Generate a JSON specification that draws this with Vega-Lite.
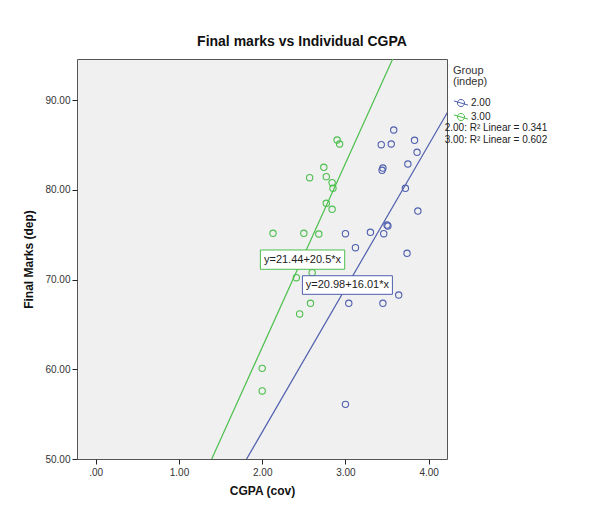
{
  "$schema": "https://vega.github.io/schema/vega-lite/v6.json",
  "width": 370,
  "height": 400,
  "autosize": {"type": "none"},
  "padding": {"left": 77, "top": 59, "right": 145, "bottom": 53},
  "background": "white",
  "title": {
    "text": "Final marks vs Individual CGPA",
    "anchor": "middle",
    "frame": "group",
    "dx": 40,
    "font": "Liberation Sans",
    "fontSize": 14,
    "fontWeight": "bold",
    "color": "#111111",
    "offset": 10
  },
  "config": {
    "font": "Liberation Sans",
    "view": {"fill": "#f0f0f0", "stroke": "#555555", "strokeWidth": 1},
    "axis": {
      "domain": false,
      "grid": false,
      "ticks": true,
      "tickSize": 5,
      "tickColor": "#222222",
      "labelFont": "Liberation Sans",
      "labelFontSize": 10,
      "labelColor": "#333333",
      "titleFont": "Liberation Sans",
      "titleFontSize": 12,
      "titleFontWeight": "bold",
      "titleColor": "#111111"
    },
    "legend": {
      "labelFont": "Liberation Sans",
      "titleFont": "Liberation Sans"
    }
  },
  "datasets": {
    "pts": [
      {"cgpa": 3.58, "marks": 86.66, "group": "2.00"},
      {"cgpa": 3.43, "marks": 85.02, "group": "2.00"},
      {"cgpa": 3.55, "marks": 85.10, "group": "2.00"},
      {"cgpa": 3.83, "marks": 85.51, "group": "2.00"},
      {"cgpa": 3.86, "marks": 84.17, "group": "2.00"},
      {"cgpa": 3.45, "marks": 82.42, "group": "2.00"},
      {"cgpa": 3.44, "marks": 82.17, "group": "2.00"},
      {"cgpa": 3.75, "marks": 82.87, "group": "2.00"},
      {"cgpa": 3.72, "marks": 80.16, "group": "2.00"},
      {"cgpa": 3.87, "marks": 77.63, "group": "2.00"},
      {"cgpa": 3.00, "marks": 75.10, "group": "2.00"},
      {"cgpa": 3.30, "marks": 75.26, "group": "2.00"},
      {"cgpa": 3.50, "marks": 76.07, "group": "2.00"},
      {"cgpa": 3.51, "marks": 75.96, "group": "2.00"},
      {"cgpa": 3.46, "marks": 75.10, "group": "2.00"},
      {"cgpa": 3.12, "marks": 73.54, "group": "2.00"},
      {"cgpa": 3.74, "marks": 72.92, "group": "2.00"},
      {"cgpa": 3.64, "marks": 68.27, "group": "2.00"},
      {"cgpa": 3.04, "marks": 67.35, "group": "2.00"},
      {"cgpa": 3.45, "marks": 67.35, "group": "2.00"},
      {"cgpa": 3.00, "marks": 56.09, "group": "2.00"},
      {"cgpa": 2.90, "marks": 85.54, "group": "3.00"},
      {"cgpa": 2.93, "marks": 85.10, "group": "3.00"},
      {"cgpa": 2.74, "marks": 82.50, "group": "3.00"},
      {"cgpa": 2.57, "marks": 81.34, "group": "3.00"},
      {"cgpa": 2.77, "marks": 81.46, "group": "3.00"},
      {"cgpa": 2.84, "marks": 80.79, "group": "3.00"},
      {"cgpa": 2.85, "marks": 80.16, "group": "3.00"},
      {"cgpa": 2.77, "marks": 78.49, "group": "3.00"},
      {"cgpa": 2.84, "marks": 77.82, "group": "3.00"},
      {"cgpa": 2.13, "marks": 75.15, "group": "3.00"},
      {"cgpa": 2.50, "marks": 75.15, "group": "3.00"},
      {"cgpa": 2.68, "marks": 75.07, "group": "3.00"},
      {"cgpa": 2.41, "marks": 70.20, "group": "3.00"},
      {"cgpa": 2.60, "marks": 70.76, "group": "3.00"},
      {"cgpa": 2.58, "marks": 67.35, "group": "3.00"},
      {"cgpa": 2.45, "marks": 66.16, "group": "3.00"},
      {"cgpa": 2.00, "marks": 60.10, "group": "3.00"},
      {"cgpa": 2.00, "marks": 57.58, "group": "3.00"}
    ],
    "fits": [
      {"cgpa": 1.70, "marks": 48.197, "group": "2.00"},
      {"cgpa": 4.30, "marks": 89.823, "group": "2.00"},
      {"cgpa": 1.30, "marks": 48.09, "group": "3.00"},
      {"cgpa": 3.70, "marks": 97.29, "group": "3.00"}
    ],
    "eqs": [
      {"group": "3.00", "label": "y=21.44+20.5*x", "cx": 2.484, "cy": 72.21, "x0": 1.978, "x1": 2.991, "y0": 71.14, "y1": 73.29},
      {"group": "2.00", "label": "y=20.98+16.01*x", "cx": 3.023, "cy": 69.39, "x0": 2.483, "x1": 3.564, "y0": 68.35, "y1": 70.42}
    ],
    "r2": [
      {"label": "2.00: R² Linear = 0.341", "cgpa": 4.192, "marks": 86.88},
      {"label": "3.00: R² Linear = 0.602", "cgpa": 4.192, "marks": 85.49}
    ]
  },
  "layer": [
    {
      "data": {"name": "fits"},
      "mark": {"type": "line", "clip": true, "strokeWidth": 1.2},
      "encoding": {
        "x": {"field": "cgpa", "type": "quantitative"},
        "y": {"field": "marks", "type": "quantitative"},
        "color": {"field": "group", "type": "nominal"},
        "detail": {"field": "group"}
      }
    },
    {
      "data": {"name": "pts"},
      "mark": {"type": "point", "filled": false, "size": 40, "strokeWidth": 1.1, "opacity": 1},
      "encoding": {
        "x": {
          "field": "cgpa", "type": "quantitative",
          "scale": {"domain": [-0.225, 4.22], "nice": false, "zero": false},
          "axis": {"values": [0, 1, 2, 3, 4], "labelExpr": "datum.value == 0 ? '.00' : format(datum.value, '.2f')", "title": "CGPA (cov)", "labelPadding": 3, "titlePadding": 8}
        },
        "y": {
          "field": "marks", "type": "quantitative",
          "scale": {"domain": [50, 94.57], "nice": false, "zero": false},
          "axis": {"values": [50, 60, 70, 80, 90], "format": ".2f", "title": "Final Marks (dep)", "labelPadding": 2, "titlePadding": 9}
        },
        "color": {
          "field": "group", "type": "nominal",
          "scale": {"domain": ["2.00", "3.00"], "range": ["#4e5fae", "#4cbf4c"]},
          "legend": {
            "title": ["Group", "(indep)"],
            "orient": "right",
            "offset": 0,
            "padding": 6,
            "titleFontSize": 11,
            "titleFontWeight": "normal",
            "titleColor": "#333333",
            "titleLineHeight": 11,
            "titlePadding": 8,
            "labelFontSize": 10,
            "labelColor": "#222222",
            "labelOffset": 2,
            "symbolType": "M-0.5,0 A0.5,0.5 0 1,0 0.5,0 A0.5,0.5 0 1,0 -0.5,0 M-1,-0.3 L1,0.3",
            "symbolSize": 200,
            "symbolStrokeWidth": 1,
            "symbolFillColor": "transparent",
            "rowPadding": 0
          }
        }
      }
    },
    {
      "data": {"name": "eqs"},
      "mark": {"type": "rect", "fill": "white", "strokeWidth": 1},
      "encoding": {
        "x": {"field": "x0", "type": "quantitative"},
        "x2": {"field": "x1"},
        "y": {"field": "y0", "type": "quantitative"},
        "y2": {"field": "y1"},
        "stroke": {
          "field": "group", "type": "nominal",
          "scale": {"domain": ["2.00", "3.00"], "range": ["#4e5fae", "#4cbf4c"]},
          "legend": null
        }
      }
    },
    {
      "data": {"name": "eqs"},
      "mark": {"type": "text", "fontSize": 11, "color": "#222222", "font": "Liberation Sans"},
      "encoding": {
        "x": {"field": "cx", "type": "quantitative"},
        "y": {"field": "cy", "type": "quantitative"},
        "text": {"field": "label"}
      }
    },
    {
      "data": {"name": "r2"},
      "mark": {"type": "text", "fontSize": 10, "align": "left", "baseline": "middle", "color": "#222222", "font": "Liberation Sans"},
      "encoding": {
        "x": {"field": "cgpa", "type": "quantitative"},
        "y": {"field": "marks", "type": "quantitative"},
        "text": {"field": "label"}
      }
    }
  ]
}
